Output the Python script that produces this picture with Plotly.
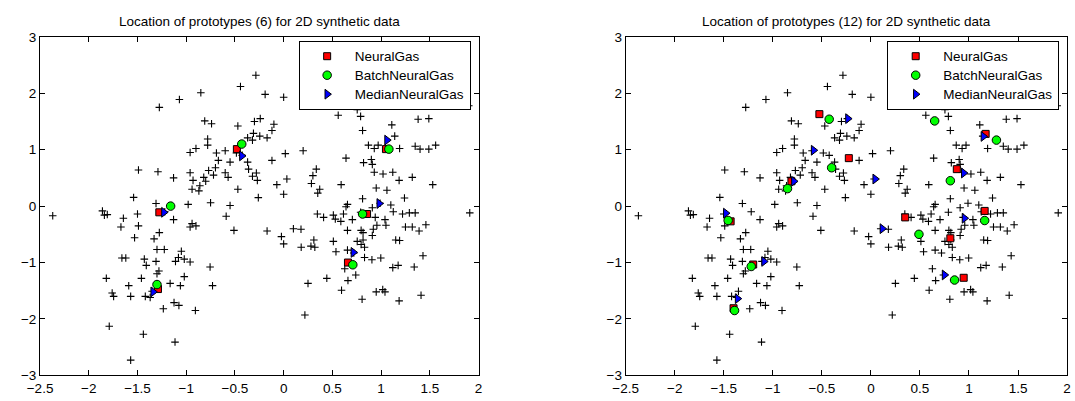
import plotly.graph_objects as go

# ---- synthetic 2D data (same in both panels) ----
data_x = [
    -0.285, -0.443, -0.19, -0.85, -1.07, -1.276, -0.81, -0.74, -0.47, -0.30,
    -0.24, -0.31, -0.37, -0.32, -0.245, -0.17, -0.78, -0.78, -0.90, -0.96,
    -0.69, -0.60, -0.67, -0.55, -0.37, -0.36, -0.28, -0.32, -0.27, -0.70,
    -0.77, -0.72, -0.60, -0.57, -0.96, -0.93, -0.82, -0.80, -0.86, -0.94,
    -0.87, -0.47, -0.26, -1.49, -1.29, -1.13, -1.54, -1.31, -0.98, -0.75,
    -0.55, -0.10, -0.12, 0.0, 0.77, 0.755, 0.79, 0.56, 1.90, 1.38,
    1.49, 1.11, 0.81, 1.14, 0.87, 0.93, 0.97, 1.19, 1.35, 1.40,
    1.49, 1.56, 0.017, 0.20, -0.12, 0.64, 0.82, 0.90, 0.91, 0.335,
    0.30, 0.033, -0.07, 0.0, 0.285, 0.37, 0.35, 0.59, 0.93, 1.02,
    1.12, 1.185, 1.32, 1.53, 0.95, 1.06, 1.24, 0.655, 0.81, 1.10,
    -1.86, -1.84, -1.81, -1.645, -1.50, -1.67, -1.49, -1.13, -0.94, -0.90,
    -0.96, -0.59, -0.51, -1.276, -1.33, -1.53, -1.30, -1.225, -1.05, -1.66,
    -1.62, -1.43, -1.41, -1.31, -1.11, -1.08, -1.02, -0.96, -0.755, -1.28,
    -1.30, -1.82, -1.46, -1.02, -1.165, -1.06, -0.73, -1.59, -1.76, -1.745,
    -1.57, -1.42, -1.37, -1.125, -1.075, -1.235, -0.906, -1.79, -1.44, -1.115,
    -1.57, -2.37, -0.17, 0.64, 0.91, 1.125, 1.22, 1.29, 1.35, 1.91,
    0.346, 0.41, 0.51, 0.53, 0.614, 0.587, 0.705, 0.94, 1.04, 0.957,
    1.05, 0.92, 0.91, 0.10, 0.178, -0.023, 0.0, 0.18, 0.28, 0.31,
    0.32, 0.51, 0.655, 0.795, 0.815, 0.755, 0.815, 0.795, 0.83, 1.25,
    1.32, 1.39, 1.46, 1.15, 1.19, 0.537, 0.655, 0.83, 0.906, 0.997,
    1.43, 1.12, 1.175, 1.34, 0.627, 0.74, 0.66, 0.443, 0.25, 0.594,
    0.805, 0.95, 1.017, 1.04, 1.185, 1.41, 0.218, -1.22, -1.35, -0.485,
    -0.425, 0.79, 0.99, 0.72,
]
data_y = [
    2.32, 2.12, 1.98, 2.01, 1.89, 1.75, 1.51, 1.46, 1.42, 1.50,
    1.55, 1.29, 1.21, 1.17, 1.24, 1.21, 1.19, 1.08, 1.02, 0.95,
    0.94, 0.98, 0.81, 0.78, 0.78, 0.655, 0.587, 0.53, 0.456, 0.68,
    0.63, 0.55, 0.59, 0.51, 0.59, 0.456, 0.51, 0.44, 0.36, 0.30,
    0.27, 0.30, 0.15, 0.64, 0.61, 0.50, 0.154, 0.046, 0.03, 0.06,
    0.01, 1.45, 1.34, 1.93, 1.88, 1.71, 1.59, 1.61, 1.78, 1.54,
    1.55, 1.44, 1.34, 1.24, 1.08, 1.02, 1.08, 1.02, 1.06, 1.01,
    1.01, 1.08, 0.93, 0.98, 0.81, 0.85, 0.77, 0.825, 0.74, 0.655,
    0.54, 0.48, 0.38, 0.21, 0.40, 0.30, 0.23, 0.38, 0.60, 0.57,
    0.60, 0.456, 0.51, 0.38, 0.32, 0.28, 0.145, 0.03, 0.13, 0.02,
    -0.085, -0.16, -0.15, -0.215, -0.14, -0.37, -0.35, -0.24, -0.31, -0.35,
    -0.37, -0.18, -0.43, -0.47, -0.58, -0.56, -0.77, -0.77, -0.80, -0.92,
    -0.92, -0.94, -1.05, -0.98, -0.98, -0.91, -0.94, -0.99, -1.08, -1.15,
    -1.20, -1.28, -1.28, -1.25, -1.37, -1.41, -1.41, -1.41, -1.54, -1.60,
    -1.60, -1.60, -1.62, -1.71, -1.76, -1.82, -1.85, -2.13, -2.27, -2.41,
    -2.73, -0.17, -0.44, -0.01, -0.03, -0.10, -0.14, -0.12, -0.12, -0.12,
    -0.14, -0.20, -0.16, -0.23, -0.14, -0.27, -0.24, -0.20, -0.24, -0.34,
    -0.34, -0.41, -0.52, -0.40, -0.41, -0.54, -0.67, -0.73, -0.71, -0.60,
    -0.73, -0.625, -0.43, -0.43, -0.47, -0.625, -0.60, -0.68, -0.73, -0.37,
    -0.37, -0.44, -0.33, -0.60, -0.61, -0.81, -0.78, -0.91, -0.95, -0.92,
    -0.88, -1.09, -1.05, -1.08, -1.11, -1.22, -1.32, -1.28, -1.37, -1.49,
    -1.65, -1.52, -1.48, -1.52, -1.68, -1.58, -1.93, -0.10, -1.51, 0.94,
    0.90, -0.11, 0.05, -0.83,
]

# ---- prototypes, 6 per method (left panel) ----
ng6_x = [-0.48, -1.276, -1.29, 1.05, 0.856, 0.66]
ng6_y = [1.01, -0.11, -1.47, 1.01, -0.14, -1.0]
bng6_x = [-0.43, -1.16, -1.30, 1.08, 0.81, 0.71]
bng6_y = [1.10, 0.0, -1.39, 1.01, -0.14, -1.04]
mng6_x = [-0.43, -1.23, -1.34, 1.06, 0.98, 0.715]
mng6_y = [0.89, -0.11, -1.52, 1.17, 0.046, -0.82]

# ---- prototypes, 12 per method (right panel) ----
ng12_x = [-0.525, -0.225, 1.17, 0.876, 0.35, 1.16, 0.81, 0.946, -1.43, -1.20, -1.40, -0.81]
ng12_y = [1.63, 0.85, 1.28, 0.655, -0.20, -0.085, -0.57, -1.27, -0.27, -1.035, -1.81, 0.44]
bng12_x = [-0.425, -0.40, 0.65, 1.28, 0.81, 0.49, 1.16, 0.853, -1.455, -1.22, -1.39, -0.85]
bng12_y = [1.54, 0.68, 1.51, 1.17, 0.45, -0.50, -0.255, -1.31, -0.255, -1.07, -1.85, 0.31]
mng12_x = [-0.235, -0.585, 0.043, 1.146, 0.946, 0.116, 0.953, 0.75, -1.48, -1.09, -1.36, -0.786]
mng12_y = [1.55, 0.99, 0.48, 1.235, 0.587, -0.40, -0.215, -1.22, -0.125, -0.98, -1.64, 0.44]

titles = ["Location of prototypes (6) for 2D synthetic data",
          "Location of prototypes (12) for 2D synthetic data"]
names = ["NeuralGas", "BatchNeuralGas", "MedianNeuralGas"]

FONT = "Liberation Sans, Arial, Helvetica, sans-serif"
FS = 13.5
W, H = 1075, 401


def legend_label(s):
    # render legend text at full size while keeping legend rows compact
    return '<span style="font-size:13.5px">' + s + "</span>"


fig = go.Figure()

panels = [
    ("x", "y", "legend", ng6_x, ng6_y, bng6_x, bng6_y, mng6_x, mng6_y),
    ("x2", "y2", "legend2", ng12_x, ng12_y, bng12_x, bng12_y, mng12_x, mng12_y),
]

for xa, ya, leg, nx, ny, bx, by, mx, my in panels:
    fig.add_trace(go.Scatter(
        x=data_x, y=data_y, mode="markers", xaxis=xa, yaxis=ya, showlegend=False,
        marker=dict(symbol="cross-thin", size=5.4, color="black",
                    line=dict(width=1.1, color="black")),
        hoverinfo="skip"))
    fig.add_trace(go.Scatter(
        x=nx, y=ny, mode="markers", xaxis=xa, yaxis=ya, name=legend_label(names[0]),
        legend=leg,
        marker=dict(symbol="square", size=7, color="#ff0000",
                    line=dict(width=1, color="black"))))
    fig.add_trace(go.Scatter(
        x=bx, y=by, mode="markers", xaxis=xa, yaxis=ya, name=legend_label(names[1]),
        legend=leg,
        marker=dict(symbol="circle", size=8.5, color="#00ff00",
                    line=dict(width=1, color="black"))))
    fig.add_trace(go.Scatter(
        x=mx, y=my, mode="markers", xaxis=xa, yaxis=ya, name=legend_label(names[2]),
        legend=leg,
        marker=dict(symbol="triangle-right", size=8.5, color="#0000ff",
                    line=dict(width=1, color="black"))))

x1_dom = [27.5 / W, 473 / W]
x2_dom = [622.5 / W, 1071 / W]
y_dom = [18.3 / H, 370 / H]

axis_common = dict(
    showgrid=False, zeroline=False, showline=True, linecolor="black", linewidth=1,
    mirror="ticks", ticks="inside", ticklen=5, tickwidth=1, tickcolor="black",
    tickfont=dict(family=FONT, size=FS, color="black"),
)

legend_common = dict(
    y=(H - 35) / H, yanchor="top", xanchor="right",
    bgcolor="white", bordercolor="black", borderwidth=1,
    itemwidth=45, tracegroupgap=0,
    font=dict(family=FONT, size=12, color="black"),
)

fig.update_layout(
    width=W, height=H,
    margin=dict(l=0, r=0, t=0, b=0),
    paper_bgcolor="white", plot_bgcolor="white",
    font=dict(family=FONT, size=FS, color="black"),
    xaxis=dict(domain=x1_dom, range=[-2.5, 2], dtick=0.5, tick0=0, anchor="y", **axis_common),
    yaxis=dict(domain=y_dom, range=[-3, 3], dtick=1, tick0=0, anchor="x", **axis_common),
    xaxis2=dict(domain=x2_dom, range=[-2.5, 2], dtick=0.5, tick0=0, anchor="y2", **axis_common),
    yaxis2=dict(domain=y_dom, range=[-3, 3], dtick=1, tick0=0, anchor="x2", **axis_common),
    legend=dict(x=465 / W, **legend_common),
    legend2=dict(x=1063 / W, **legend_common),
    annotations=[
        dict(text=titles[0], xref="paper", yref="paper",
             x=(x1_dom[0] + x1_dom[1]) / 2, y=(H - 15) / H,
             xanchor="center", yanchor="middle", showarrow=False,
             font=dict(family=FONT, size=FS, color="black")),
        dict(text=titles[1], xref="paper", yref="paper",
             x=(x2_dom[0] + x2_dom[1]) / 2, y=(H - 15) / H,
             xanchor="center", yanchor="middle", showarrow=False,
             font=dict(family=FONT, size=FS, color="black")),
    ],
)

fig.write_html(
    "out.html",
    config={"displayModeBar": False},
    post_script="document.body.style.margin='0';document.body.style.overflow='hidden';",
)
